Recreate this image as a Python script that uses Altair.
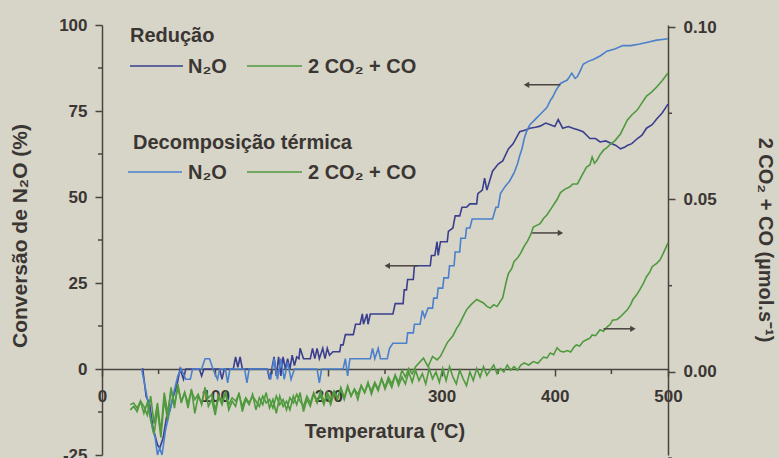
import altair as alt
import pandas as pd

# N2O conversion (%) against temperature (°C), reduction run
reducao_n2o = [
    (35, 0), (36, 0), (39, -8), (42, -10), (45, -17), (49, -22), (51, -23), (54, -20),
    (57, -14), (60, -12), (63, -8), (66, -5), (69, 0), (72, -3), (74, 0), (86, 0),
    (88, -2), (90, 0), (104, 0), (106, -3), (108, 0), (116, 0), (118, 3.5), (120, 0.5),
    (122, 3.5), (124, 0), (146, 0), (148, -3), (150, 0), (152, 3.5), (154, -2), (156, 3.5),
    (158, -2), (160, 3.5), (162, 0), (164, 3), (166, 0), (168, 4), (170, 1), (172, 3.5),
    (174, 3), (175, 6), (178, 3), (184, 3), (186, 6), (188, 3), (190, 6), (192, 3),
    (195, 6), (197, 3), (199, 6), (201, 4), (204, 5), (210, 5), (211, 7), (213, 7),
    (215, 10), (222, 10), (224, 13), (228, 13), (230, 16), (231, 13), (234, 16), (235, 13),
    (237, 16), (257, 16), (259, 19), (266, 19), (267, 23), (269, 23), (270, 26), (275, 26),
    (276, 30), (290, 30), (291, 33), (294, 33), (296, 37), (297, 33), (299, 37), (305, 37),
    (306, 40), (310, 41), (312, 44.5), (316, 44.5), (318, 47), (322, 47), (325, 48), (331, 48),
    (332, 51), (336, 52), (338, 55.5), (340, 52), (345, 57.5), (350, 59.6), (354, 60.5), (359, 64),
    (363, 65.4), (369, 69), (374, 69.5), (378, 70), (383, 70.3), (387, 70.6), (392, 71.5), (396, 71),
    (400, 70.5), (403, 72.5), (407, 70), (412, 70.5), (416, 70), (421, 69.5), (425, 69), (431, 67),
    (436, 67), (440, 66), (445, 66.3), (449, 65.7), (454, 65), (458, 64), (462, 64.5), (464, 65),
    (468, 65.5), (473, 67), (477, 68), (481, 70), (486, 71), (490, 72.7), (495, 74.5), (500, 77),
]

# N2O conversion (%) against temperature (°C), thermal decomposition run
decomp_n2o = [
    (35, 0), (38, -5), (42, -12), (45, -18), (47, -20), (49, -25), (51, -23), (53, -25),
    (56, -18), (60, -12), (64, -6), (67, -2), (70, 0), (74, -3), (78, -3), (80, 0),
    (88, 0), (91, 3), (95, 3), (98, 0), (102, -3), (104, 0), (109, 0), (111, -4),
    (113, 0), (126, 0), (128, -4), (130, 0), (146, 0), (149, -3), (152, 3), (155, -3),
    (158, 3), (161, -3), (164, 2), (167, -3), (170, 0), (190, 0), (192, -4), (194, 0),
    (213, 0), (215, 3), (217, -2), (219, 3), (237, 3), (239, 6), (241, 3), (244, 6),
    (246, 3), (252, 3), (254, 6), (257, 7.5), (269, 7.5), (270, 10.5), (275, 10.5), (276, 13),
    (281, 13), (283, 17), (285, 15), (288, 17.7), (292, 17.7), (293, 20.6), (296, 20.6), (297, 23.5),
    (301, 23.5), (302, 26.5), (306, 26.5), (307, 30), (311, 30), (312, 34), (316, 34), (317, 38),
    (321, 38), (322, 41), (325, 41), (327, 43.6), (345, 43.6), (348, 47), (350, 47), (352, 51),
    (356, 53), (360, 54.6), (364, 57), (367, 59.6), (369, 62), (371, 64), (373, 67), (375, 69),
    (378, 71), (381, 72), (384, 73), (387, 74), (390, 75), (393, 76), (396, 78), (398, 79),
    (401, 81), (405, 83), (408, 83.5), (411, 84), (413, 85), (415, 86), (418, 84.5), (420, 85),
    (423, 87), (425, 88.6), (430, 89.5), (434, 90), (440, 91), (446, 92.4), (453, 93), (460, 94),
    (467, 94), (475, 94.5), (482, 95), (490, 95.6), (495, 95.8), (500, 96),
]

# 2 CO2 + CO output (µmol/s), reduction run
reducao_cox = [
    (25, -0.0095), (28, -0.0090), (31, -0.0105), (34, -0.0085), (37, -0.0100), (40, -0.0125),
    (43, -0.0070), (46, -0.0150), (49, -0.0090), (52, -0.0175), (55, -0.0060), (58, -0.0120),
    (61, -0.0050), (64, -0.0095), (67, -0.0045), (70, -0.0085), (73, -0.0060), (76, -0.0090),
    (79, -0.0055), (82, -0.0080), (85, -0.0065), (88, -0.0095), (91, -0.0050), (94, -0.0075),
    (97, -0.0065), (100, -0.0110), (103, -0.0070), (106, -0.0085), (109, -0.0060), (112, -0.0095),
    (115, -0.0075), (118, -0.0085), (121, -0.0065), (124, -0.0100), (127, -0.0075), (130, -0.0090),
    (133, -0.0070), (136, -0.0085), (139, -0.0100), (142, -0.0070), (145, -0.0090), (148, -0.0080),
    (151, -0.0105), (154, -0.0070), (157, -0.0095), (160, -0.0080), (163, -0.0110), (166, -0.0075),
    (169, -0.0090), (172, -0.0065), (175, -0.0085), (178, -0.0100), (181, -0.0070), (184, -0.0090),
    (187, -0.0060), (190, -0.0085), (193, -0.0070), (196, -0.0095), (199, -0.0060), (202, -0.0080),
    (205, -0.0055), (208, -0.0075), (211, -0.0050), (214, -0.0080), (217, -0.0045), (220, -0.0070),
    (223, -0.0050), (226, -0.0065), (229, -0.0040), (232, -0.0060), (235, -0.0035), (238, -0.0055),
    (241, -0.0030), (244, -0.0050), (247, -0.0020), (250, -0.0045), (253, -0.0015), (256, -0.0035),
    (259, -0.0010), (262, -0.0030), (265, 0.0005), (268, -0.0015), (271, 0.0010), (274, -0.0005),
    (277, 0.0015), (280, 0.0026), (284, 0.0040), (288, 0.0015), (292, 0.0045), (296, 0.0035),
    (299, 0.0045), (302, 0.0065), (305, 0.0085), (310, 0.0105), (313, 0.0125), (316, 0.0140),
    (319, 0.0160), (322, 0.0180), (326, 0.0195), (331, 0.0210), (334, 0.0205), (337, 0.0200),
    (340, 0.0190), (343, 0.0185), (346, 0.0195), (349, 0.0190), (354, 0.0215), (357, 0.0260),
    (359, 0.0285), (362, 0.0300), (364, 0.0320), (367, 0.0330), (370, 0.0345), (373, 0.0365),
    (376, 0.0380), (379, 0.0400), (381, 0.0420), (384, 0.0425), (387, 0.0430), (390, 0.0445),
    (393, 0.0455), (396, 0.0470), (398, 0.0480), (402, 0.0500), (405, 0.0520), (409, 0.0530),
    (413, 0.0536), (416, 0.0545), (420, 0.0545), (424, 0.0570), (428, 0.0594), (431, 0.0600),
    (433, 0.0623), (435, 0.0605), (437, 0.0612), (440, 0.0630), (443, 0.0643), (446, 0.0650),
    (449, 0.0660), (453, 0.0670), (458, 0.0690), (461, 0.0710), (464, 0.0730), (468, 0.0745),
    (473, 0.0760), (477, 0.0780), (481, 0.0800), (485, 0.0810), (490, 0.0826), (495, 0.0845),
    (500, 0.0867),
]

# 2 CO2 + CO output (µmol/s), thermal decomposition run
decomp_cox = [
    (25, -0.0110), (28, -0.0100), (31, -0.0115), (34, -0.0085), (37, -0.0120), (40, -0.0090),
    (43, -0.0140), (46, -0.0180), (49, -0.0110), (52, -0.0190), (55, -0.0080), (58, -0.0140),
    (61, -0.0045), (64, -0.0105), (67, -0.0035), (70, -0.0090), (73, -0.0060), (76, -0.0105),
    (79, -0.0050), (82, -0.0120), (85, -0.0070), (88, -0.0090), (91, -0.0045), (94, -0.0100),
    (97, -0.0080), (100, -0.0125), (103, -0.0070), (106, -0.0095), (109, -0.0060), (112, -0.0110),
    (115, -0.0085), (118, -0.0100), (121, -0.0060), (124, -0.0115), (127, -0.0080), (130, -0.0095),
    (133, -0.0065), (136, -0.0110), (139, -0.0075), (142, -0.0095), (145, -0.0060), (148, -0.0105),
    (151, -0.0080), (154, -0.0120), (157, -0.0070), (160, -0.0100), (163, -0.0085), (166, -0.0110),
    (169, -0.0070), (172, -0.0095), (175, -0.0060), (178, -0.0115), (181, -0.0080), (184, -0.0100),
    (187, -0.0065), (190, -0.0090), (193, -0.0055), (196, -0.0085), (199, -0.0070), (202, -0.0095),
    (205, -0.0060), (208, -0.0080), (211, -0.0045), (214, -0.0075), (217, -0.0040), (220, -0.0070),
    (223, -0.0050), (226, -0.0080), (229, -0.0040), (232, -0.0060), (235, -0.0030), (238, -0.0065),
    (241, -0.0035), (244, -0.0055), (247, -0.0020), (250, -0.0050), (253, -0.0025), (256, -0.0045),
    (259, -0.0010), (262, -0.0040), (265, -0.0015), (268, -0.0035), (271, 0.0000), (274, -0.0030),
    (277, 0.0005), (280, -0.0025), (283, -0.0005), (286, -0.0035), (289, 0.0010), (292, -0.0020),
    (295, 0.0000), (298, -0.0030), (301, 0.0010), (304, -0.0025), (307, 0.0015), (310, -0.0015),
    (313, -0.0035), (316, 0.0005), (319, -0.0020), (322, -0.0040), (325, 0.0000), (328, -0.0025),
    (331, 0.0010), (334, -0.0015), (337, 0.0015), (340, -0.0010), (343, 0.0005), (346, 0.0020),
    (349, -0.0005), (352, 0.0010), (355, 0.0000), (358, 0.0020), (361, 0.0005), (364, 0.0015),
    (367, 0.0005), (370, 0.0020), (373, 0.0026), (377, 0.0020), (381, 0.0030), (385, 0.0025),
    (390, 0.0043), (393, 0.0040), (396, 0.0055), (399, 0.0050), (402, 0.0070), (405, 0.0060),
    (408, 0.0058), (411, 0.0062), (414, 0.0058), (417, 0.0072), (419, 0.0078), (422, 0.0075),
    (425, 0.0088), (428, 0.0093), (431, 0.0098), (433, 0.0107), (436, 0.0105), (440, 0.0122),
    (443, 0.0118), (446, 0.0130), (449, 0.0138), (451, 0.0150), (455, 0.0152), (458, 0.0160),
    (461, 0.0170), (464, 0.0180), (467, 0.0195), (469, 0.0210), (472, 0.0222), (475, 0.0238),
    (478, 0.0255), (481, 0.0276), (484, 0.0290), (486, 0.0305), (490, 0.0315), (493, 0.0325),
    (496, 0.0345), (500, 0.0374),
]

# Axis tick values
x_major = [0, 100, 200, 300, 400, 500]
x_minor = [50, 150, 250, 350, 450]
left_major = [-25, 0, 25, 50, 75, 100]
left_minor = [-12.5, 12.5, 37.5, 62.5, 87.5]
right_major = [0.0, 0.05, 0.10]
right_minor = [-0.025, 0.025, 0.075]

# Arrows pointing each curve to its axis: (from T, to T, level)
arrows_left = [(252, 279, 30.0), (375, 405, 82.6)]
arrows_right = [(380, 405, 0.0403), (443, 469, 0.0125)]

# ---------------------------------------------------------------------------
W, H = 566, 430
BG = "#d7d4c8"
AX = "#4a4440"
TXT = "#3a3633"
DARK_BLUE = "#3a3f8e"
LIGHT_BLUE = "#4a80cc"
GREEN = "#4f9a3e"
FONT = "Liberation Sans"

series_names = ["Redução N₂O", "Decomposição N₂O", "Redução CO", "Decomposição CO"]
series_colors = [DARK_BLUE, LIGHT_BLUE, GREEN, GREEN]
color_scale = alt.Scale(domain=series_names, range=series_colors)


def frame(name, pts):
    return pd.DataFrame({
        "series": name,
        "T": [p[0] for p in pts],
        "value": [p[1] for p in pts],
        "i": list(range(len(pts))),
    })


blue_df = pd.concat([frame(series_names[0], reducao_n2o), frame(series_names[1], decomp_n2o)])
green_df = pd.concat([frame(series_names[2], reducao_cox), frame(series_names[3], decomp_cox)])

x_scale = alt.Scale(domain=[0, 500], nice=False, zero=False)
yl_scale = alt.Scale(domain=[-25, 100], nice=False, zero=False)
yr_scale = alt.Scale(domain=[-0.0241, 0.1006], nice=False, zero=False)

zero_px = H * 100 / 125  # pixel row of the zero line on the left scale

x_axis = alt.Axis(values=x_major, format="d", tickSize=7, labelPadding=12,
                  offset=-(H - zero_px), title=None, labelFlush=False)
left_axis = alt.Axis(values=left_major, tickSize=7, labelPadding=8, title=None,
                     labelExpr="datum.value + ''", orient="left")
right_axis = alt.Axis(values=right_major, tickSize=7, labelPadding=8, title=None,
                      format=".2f", orient="right")

blue_lines = alt.Chart(blue_df).mark_line(strokeWidth=1.6).encode(
    x=alt.X("T:Q", scale=x_scale, axis=x_axis),
    y=alt.Y("value:Q", scale=yl_scale, axis=left_axis),
    color=alt.Color("series:N", scale=color_scale, legend=None),
    detail="series:N",
    order="i:Q",
)

green_lines = alt.Chart(green_df).mark_line(strokeWidth=1.6).encode(
    x=alt.X("T:Q", scale=x_scale),
    y=alt.Y("value:Q", scale=yr_scale, axis=right_axis),
    color=alt.Color("series:N", scale=color_scale, legend=None),
    detail="series:N",
    order="i:Q",
)

# minor ticks
left_minor_ticks = alt.Chart(pd.DataFrame({"value": left_minor})).mark_rule(
    color=AX, strokeWidth=1.5).encode(y="value:Q", x=alt.value(-4), x2=alt.value(0))
x_minor_ticks = alt.Chart(pd.DataFrame({"T": x_minor})).mark_rule(
    color=AX, strokeWidth=1.5).encode(x="T:Q", y=alt.value(zero_px), y2=alt.value(zero_px + 5))
right_minor_ticks = alt.Chart(pd.DataFrame({"value": right_minor})).mark_rule(
    color=AX, strokeWidth=1.5).encode(y="value:Q", x=alt.value(W), x2=alt.value(W + 4))

# arrows
al_df = pd.DataFrame({"T": [a[0] for a in arrows_left], "T2": [a[1] for a in arrows_left],
                      "value": [a[2] for a in arrows_left]})
ar_df = pd.DataFrame({"T": [a[0] for a in arrows_right], "T2": [a[1] for a in arrows_right],
                      "value": [a[2] for a in arrows_right]})

al_shaft = alt.Chart(al_df).mark_rule(color=AX, strokeWidth=1.5).encode(
    x="T:Q", x2="T2:Q", y="value:Q")
al_head = alt.Chart(al_df).mark_point(shape="triangle-left", filled=True, size=40,
                                      color=AX, opacity=1).encode(x="T:Q", y="value:Q")
ar_shaft = alt.Chart(ar_df).mark_rule(color=AX, strokeWidth=1.5).encode(
    x="T:Q", x2="T2:Q", y="value:Q")
ar_head = alt.Chart(ar_df).mark_point(shape="triangle-right", filled=True, size=40,
                                      color=AX, opacity=1).encode(x="T2:Q", y="value:Q")

left_group = alt.layer(blue_lines, left_minor_ticks, x_minor_ticks, al_shaft, al_head)
right_group = alt.layer(green_lines, right_minor_ticks, ar_shaft, ar_head)

# legend and axis titles
one = pd.DataFrame({"k": [0]})


def label(text, x, y, size=20, angle=0, align="left"):
    return alt.Chart(one).mark_text(
        text=text, font=FONT, fontSize=size, fontWeight="bold", color=TXT,
        align=align, baseline="middle", angle=angle,
    ).encode(x=alt.value(x), y=alt.value(y))


def swatch(color, x0, x1, y):
    return alt.Chart(one).mark_rule(color=color, strokeWidth=1.6).encode(
        x=alt.value(x0), x2=alt.value(x1), y=alt.value(y))


deco = alt.layer(
    label("Redução", 28, 11),
    swatch(DARK_BLUE, 28, 81, 41),
    label("N₂O", 86, 42),
    swatch(GREEN, 145, 200, 41),
    label("2 CO₂ + CO", 206, 42),
    label("Decomposição térmica", 31, 118),
    swatch(LIGHT_BLUE, 26, 80, 147),
    label("N₂O", 86, 148),
    swatch(GREEN, 145, 200, 147),
    label("2 CO₂ + CO", 206, 148),
    label("Temperatura (ºC)", 283, 407, align="center"),
    label("Conversão de N₂O (%)", -81, 211, size=21, angle=270, align="center"),
    label("2 CO₂ + CO (µmol.s⁻¹)", 663, 215, angle=90, align="center"),
)

chart = alt.layer(left_group, right_group, deco).resolve_scale(
    y="independent"
).properties(
    width=W, height=H,
    autosize=alt.AutoSizeParams(type="none"),
    padding={"left": 102, "top": 25, "right": 779 - 102 - W, "bottom": 458 - 25 - H},
    background=BG,
).configure_view(stroke=None).configure_axis(
    grid=False,
    domainColor=AX, domainWidth=1.5,
    tickColor=AX, tickWidth=1.5,
    labelColor=TXT, labelFont=FONT, labelFontSize=17, labelFontWeight="bold",
)

chart.save("out.html", embed_options={"renderer": "svg", "actions": False})
